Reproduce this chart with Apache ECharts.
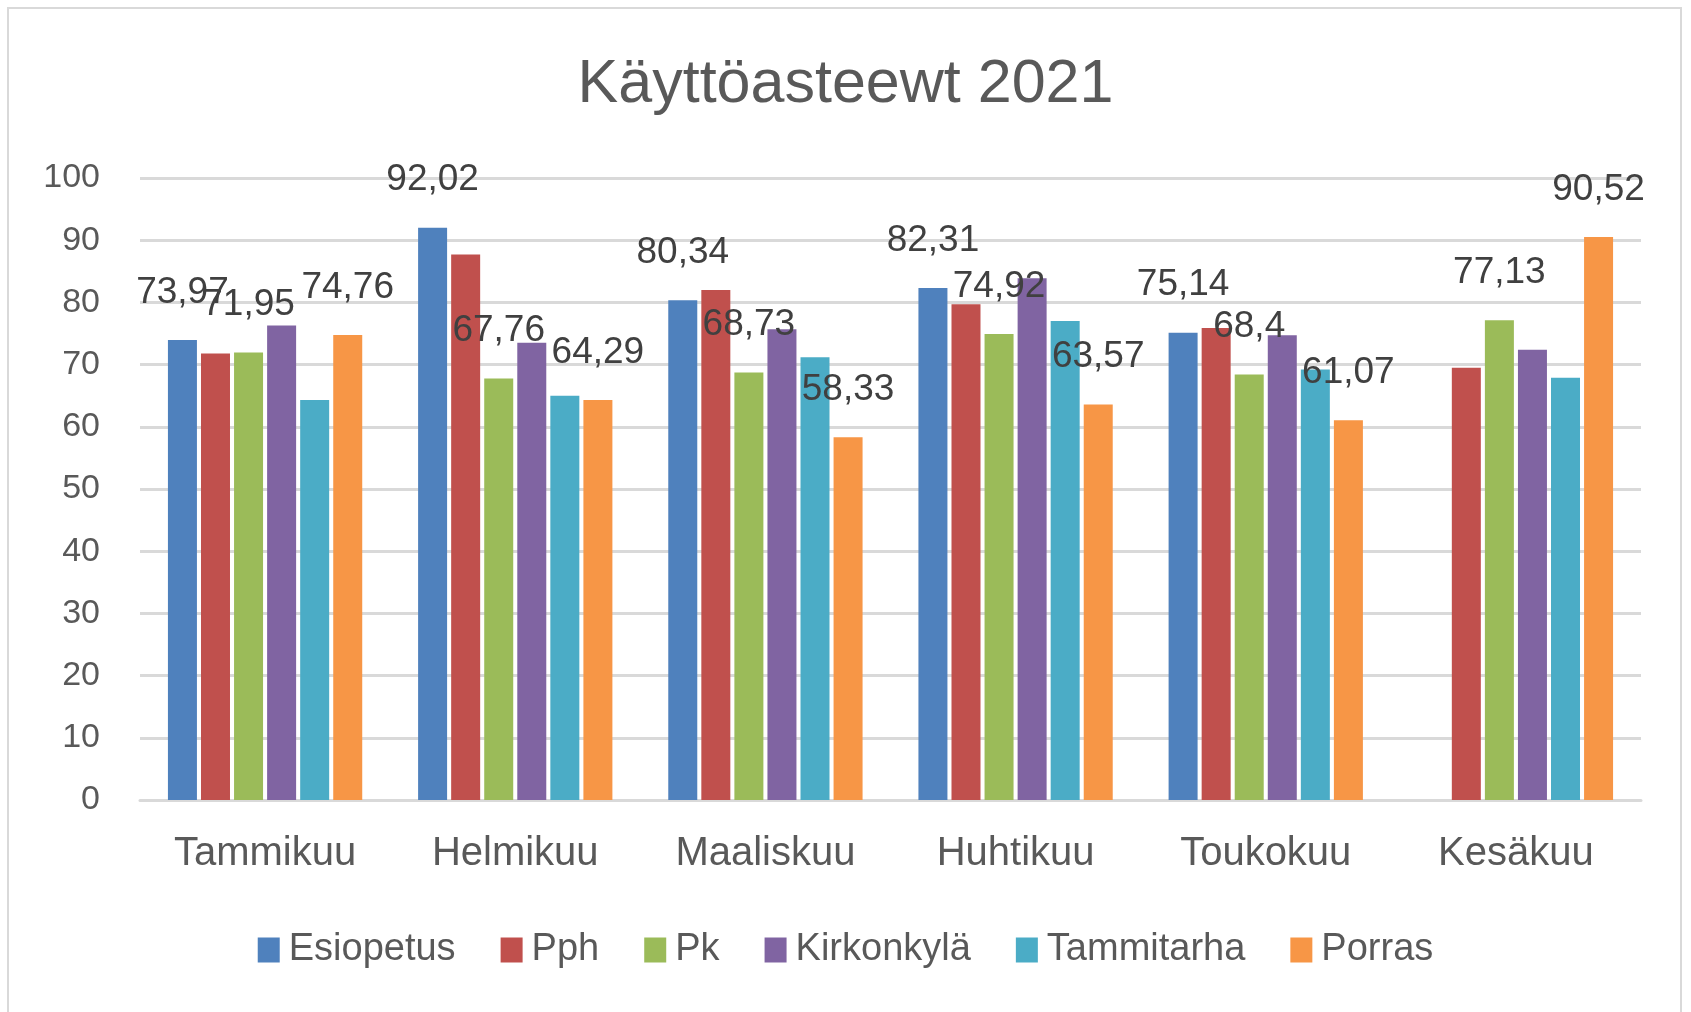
<!DOCTYPE html>
<html>
<head>
<meta charset="utf-8">
<script src="https://cdn.jsdelivr.net/npm/echarts@6/dist/echarts.min.js"></script>
<style>
  html, body { margin: 0; padding: 0; background: #fff; }
  #chart { width: 1691px; height: 1012px; }
</style>
</head>
<body>
<div id="chart"></div>
<script>
const months = ['Tammikuu', 'Helmikuu', 'Maaliskuu', 'Huhtikuu', 'Toukokuu', 'Kesäkuu'];
const seriesNames = ['Esiopetus', 'Pph', 'Pk', 'Kirkonkylä', 'Tammitarha', 'Porras'];

const esiopetus = [73.97, 92.02, 80.34, 82.31, 75.14, null];
const pph = [71.8, 87.7, 82.0, 79.7, 75.9, 69.5];
const pk = [71.95, 67.76, 68.73, 74.92, 68.4, 77.13];
const kirkonkyla = [76.3, 73.5, 75.7, 83.9, 74.7, 72.4];
const tammitarha = [64.3, 65.0, 71.2, 77.0, 69.2, 67.9];
const porras = [74.76, 64.29, 58.33, 63.57, 61.07, 90.52];

const yTicks = [0, 100, 10];

const colors = ['#4F81BD', '#C0504D', '#9BBB59', '#8064A2', '#4BACC6', '#F79646'];
const labelled = [true, false, true, false, false, true];
const values = [esiopetus, pph, pk, kirkonkyla, tammitarha, porras];

const font = '"Liberation Sans", Arial, sans-serif';
const chart = echarts.init(document.getElementById('chart'));

const option = {
  animation: false,
  color: colors,
  title: {
    text: 'Käyttöasteewt 2021',
    left: 'center',
    top: 50,
    textStyle: { fontFamily: font, fontSize: 61, fontWeight: 'normal', color: '#595959' }
  },
  graphic: [{
    type: 'rect',
    shape: { x: 8, y: 8, width: 1673, height: 1030 },
    style: { fill: 'none', stroke: '#d9d9d9', lineWidth: 2 },
    silent: true
  }],
  legend: {
    bottom: 38,
    left: 'center',
    itemWidth: 22,
    itemHeight: 25,
    itemGap: 45,
    icon: 'rect',
    textStyle: { fontFamily: font, fontSize: 38, color: '#595959', padding: [0, 0, 0, 4] },
    data: seriesNames
  },
  grid: { left: 140, right: 50, top: 178, bottom: 212 },
  xAxis: {
    type: 'category',
    data: months,
    axisTick: { show: false },
    axisLine: { lineStyle: { color: '#d9d9d9', width: 3 } },
    axisLabel: { fontFamily: font, fontSize: 40, color: '#595959', margin: 34 }
  },
  yAxis: {
    type: 'value',
    min: yTicks[0],
    max: yTicks[1],
    interval: yTicks[2],
    axisLine: { show: false },
    axisTick: { show: false },
    splitLine: { lineStyle: { color: '#d9d9d9', width: 3 } },
    axisLabel: { fontFamily: font, fontSize: 34, color: '#595959', margin: 40 }
  },
  series: seriesNames.map((name, i) => ({
    name,
    type: 'bar',
    data: values[i],
    barWidth: 29,
    barGap: '14%',
    itemStyle: { color: colors[i] },
    label: {
      show: labelled[i],
      position: 'top',
      distance: 29,
      fontFamily: font,
      fontSize: 37,
      color: '#404040',
      formatter: p => String(p.value).replace('.', ',')
    }
  }))
};

chart.setOption(option);
</script>
</body>
</html>
